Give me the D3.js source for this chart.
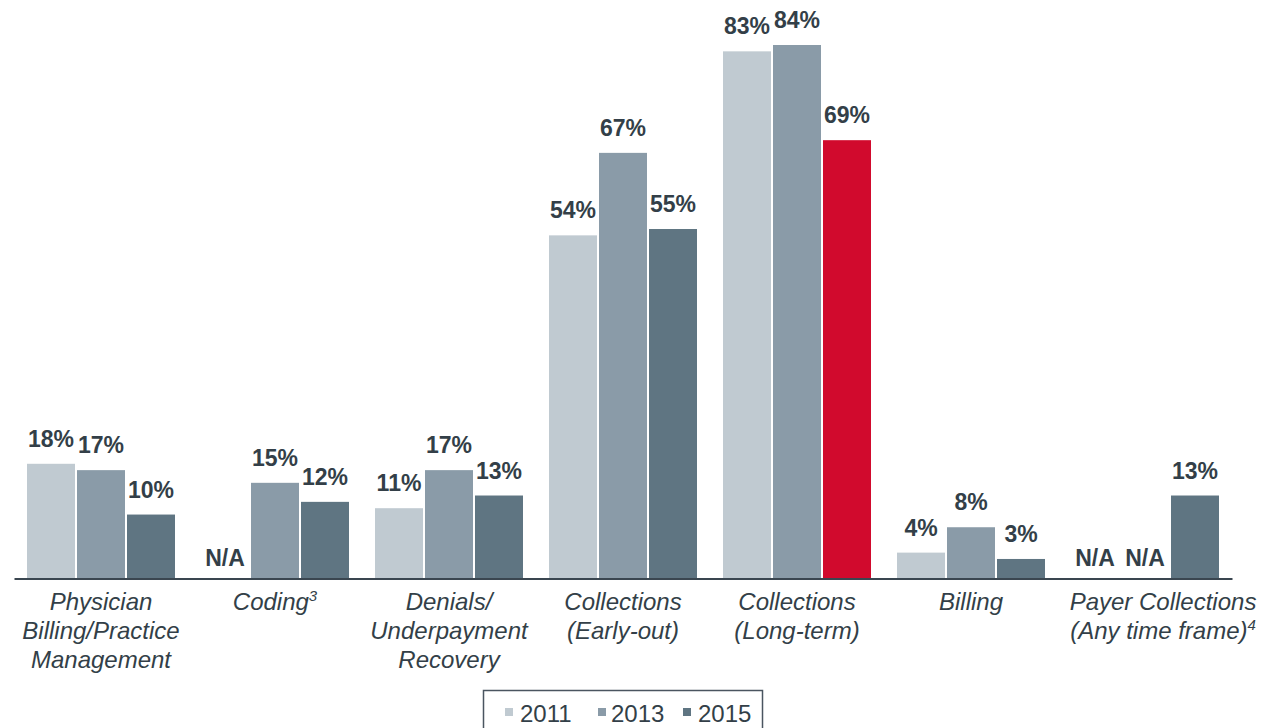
<!DOCTYPE html>
<html><head><meta charset="utf-8">
<script src="https://cdn.jsdelivr.net/npm/d3@7/dist/d3.min.js"></script>
<style>
html,body{margin:0;padding:0;background:#fff;}
svg{display:block;font-family:"Liberation Sans",Arial,sans-serif;}
</style></head>
<body>
<svg id="c" width="1270" height="728"></svg>
<script>
const categories = ["Physician Billing/Practice Management","Coding","Denials/ Underpayment Recovery","Collections (Early-out)","Collections (Long-term)","Billing","Payer Collections (Any time frame)"];
const categoryLines = [
  [["Physician"],["Billing/Practice"],["Management"]],
  [["Coding","3"]],
  [["Denials/"],["Underpayment"],["Recovery"]],
  [["Collections"],["(Early-out)"]],
  [["Collections"],["(Long-term)"]],
  [["Billing"]],
  [["Payer Collections"],["(Any time frame)","4"]]
];
const seriesNames = ["2011","2013","2015"];
const values2011 = [18, null, 11, 54, 83, 4, null];
const values2013 = [17, 15, 17, 67, 84, 8, null];
const values2015 = [10, 12, 13, 55, 69, 3, 13];
const seriesValues = [values2011, values2013, values2015];
const highlight = {series: "2015", category: "Collections (Long-term)"};

const colors = {"2011":"#c0cad1","2013":"#8a9ba8","2015":"#5f7582"};
const highlightColor = "#d10a2d";
const textColor = "#333f48";

const svg = d3.select("#c");
const x0 = d3.scaleBand().domain(categories).range([14,1232]).padding(0);
const x1 = d3.scaleBand().domain(seriesNames).range([13,161]).paddingInner(0.04);
const y = d3.scaleLinear().domain([0,84]).range([578,45]);

const data = [];
categories.forEach((c,i)=>{
  seriesNames.forEach((s,j)=>{
    data.push({cat:c, ser:s, v:seriesValues[j][i]});
  });
});

const g = svg.append("g");
g.selectAll("rect.bar").data(data.filter(d=>d.v!==null)).join("rect")
  .attr("class","bar")
  .attr("x",d=>x0(d.cat)+x1(d.ser))
  .attr("width",x1.bandwidth())
  .attr("y",d=>y(d.v))
  .attr("height",d=>y(0)-y(d.v))
  .attr("fill",d=>(d.ser===highlight.series&&d.cat===highlight.category)?highlightColor:colors[d.ser]);

g.selectAll("text.val").data(data).join("text")
  .attr("class","val")
  .attr("x",d=>x0(d.cat)+x1(d.ser)+x1.bandwidth()/2)
  .attr("y",d=>d.v===null? y(0)-12 : y(d.v)-17)
  .attr("text-anchor","middle")
  .attr("font-size",23).attr("font-weight","bold")
  .attr("fill",textColor)
  .text(d=>d.v===null?"N/A":d.v+"%");

// axis
const axis = d3.axisBottom(x0).tickSize(0).tickFormat("");
const ax = svg.append("g").attr("transform","translate(0,578.5)").call(axis);
ax.select(".domain").attr("stroke","#3a4650").attr("stroke-width",2.2);

// category labels
const labelShift = [0,0,0,0,0,0,18];
categories.forEach((c,i)=>{
  const cx = x0(c)+x0.bandwidth()/2+labelShift[i];
  const t = svg.append("text").attr("text-anchor","middle")
    .attr("font-size",24).attr("font-style","italic").attr("fill",textColor);
  categoryLines[i].forEach((ln,k)=>{
    const ts = t.append("tspan").attr("x",cx).attr("y",610+k*29).text(ln[0]);
    if(ln[1]){
      ts.append("tspan").attr("font-size",15).attr("dy",-9).text(ln[1]);
    }
  });
});

// legend
const lg = svg.append("g");
lg.append("rect").attr("x",483.5).attr("y",690.5).attr("width",279).attr("height",60)
  .attr("fill","none").attr("stroke","#4a5560").attr("stroke-width",1.5);
const legSq = [505, 598, 683];
const legTx = [520, 611, 698];
seriesNames.forEach((s,i)=>{
  lg.append("rect").attr("x",legSq[i]).attr("y",708).attr("width",8).attr("height",8).attr("fill",colors[s]);
  lg.append("text").attr("x",legTx[i]).attr("y",722).attr("font-size",24).attr("fill",textColor).text(s);
});
</script>
</body></html>
